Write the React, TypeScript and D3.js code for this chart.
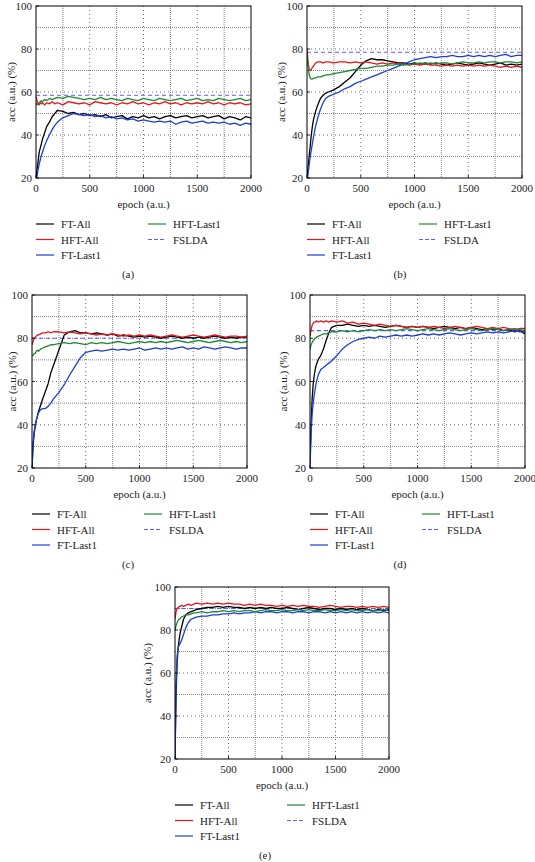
import React from "react";
import * as d3 from "d3";

// ---------- data ----------
const EPOCHS = [
  0, 10, 20, 30, 40, 50, 60, 80, 100, 125, 150, 175, 200,
  250, 300, 350, 400, 450, 500, 550, 600, 650, 700, 750, 800,
  850, 900, 950, 1000, 1050, 1100, 1150, 1200, 1250, 1300, 1350, 1400,
  1450, 1500, 1550, 1600, 1650, 1700, 1750, 1800, 1850, 1900, 1950, 2000,
];

const X_TICKS = [0, 500, 1000, 1500, 2000];
const Y_TICKS = [20, 40, 60, 80, 100];
const X_GRID_MINOR = [250, 750, 1250, 1750];
const X_GRID_MAJOR = [500, 1000, 1500];
const Y_GRID_MINOR = [30, 50, 70, 90];
const Y_GRID_MAJOR = [40, 60, 80];

const SERIES_NAMES = ["FT-All", "HFT-All", "FT-Last1", "HFT-Last1", "FSLDA"];
const PANEL_CAPTIONS = ["(a)", "(b)", "(c)", "(d)", "(e)"];
const FSLDA = [58.5, 78.5, 80, 83.5, 90];

// (a)
const ftAllA = [
  20, 24, 28, 32, 34, 36, 38, 41, 44, 46, 48.5, 50, 51.5,
  51, 50, 50.5, 49.5, 50, 49, 49.5, 48.5, 49.5, 48, 48.5, 49,
  47.5, 48.5, 48, 49, 48, 48.5, 47.5, 48.5, 49, 48, 48.5, 49,
  48, 48.5, 49, 48, 48.5, 49, 47.5, 48.5, 48, 47, 48.5, 48,
];
const hftAllA = [
  58, 56, 54.5, 54, 55, 54.5, 55, 54, 55, 54.5, 55.5, 54.5, 55,
  54, 55.5, 55, 54.5, 55, 54, 55.5, 55, 54.5, 55, 54, 55,
  54.5, 55.5, 54.5, 55, 54, 55, 54.5, 55.5, 54.5, 55, 54, 55,
  54.5, 55, 54.5, 55.5, 54.5, 55, 54, 55, 54.5, 55, 54, 54.5,
];
const ftLast1A = [
  18, 21, 24, 26.5, 28.5, 30.5, 32, 35, 37.5, 40, 42.5, 44.5, 46,
  48, 49, 50, 49.5, 49, 49.5, 48.5, 49, 48, 48.5, 47.5, 48,
  47, 47.5, 46.5, 47, 46.5, 46, 46.5, 46, 46.5, 45, 46, 46.5,
  45.5, 46, 46.5, 45.5, 46, 45.5, 46, 45, 45.5, 44.5, 45.5, 45,
];
const hftLast1A = [
  55, 54, 54.5, 55, 55.5, 56, 55.5, 56.5, 56, 57, 56.5, 57, 57.5,
  57, 58, 57.5, 57, 56.5, 57, 56.5, 57.5, 56.5, 57, 56.5, 56,
  57, 56.5, 56, 57, 56.5, 56, 57, 56.5, 56, 56.5, 57, 56,
  56.5, 57, 56, 56.5, 56, 57, 56.5, 56, 56.5, 57, 56, 56.5,
];

// (b)
const ftAllB = [
  20, 25, 30, 35, 40, 44, 47, 51, 54, 57, 58.5, 59.5, 60,
  61, 62.5, 64.5, 66.5, 69.5, 72.5, 74.5, 75.5, 75, 75, 74.5, 74,
  73.5, 73.5, 73, 73.5, 73, 73.5, 73, 73.5, 73, 72.5, 73, 73.5,
  73, 72.5, 73, 73.5, 73, 72.5, 73, 73.5, 72.5, 73, 72.5, 73,
];
const hftAllB = [
  80, 74, 70.5, 70, 70.5, 71.5, 72, 73.5, 74, 74, 73.5, 74, 74,
  73.5, 74, 74, 73.5, 74, 73.5, 74, 73.5, 73, 73.5, 73, 73.5,
  73, 73, 72.5, 73, 72.5, 73, 72.5, 72.5, 72, 72.5, 72, 72.5,
  72, 72.5, 72, 72.5, 72, 72.5, 72, 71.5, 72, 71.5, 72, 71.5,
];
const ftLast1B = [
  18, 22, 26, 30, 33, 36, 39, 44, 48, 52, 55, 57, 58,
  59, 60, 61.5, 62.5, 64, 65, 66, 67, 68, 69, 70, 71,
  72, 73, 74, 75, 75.5, 76, 76.5, 76, 76.5, 76.5, 77, 76.5,
  76.5, 77, 76.5, 77, 76.5, 77, 76.5, 77, 77.5, 76.5, 77, 77,
];
const hftLast1B = [
  78, 72, 68, 66.5, 66, 66, 66.5, 66.5, 67, 67, 67.5, 68, 68,
  68.5, 69, 69.5, 70, 70.5, 71, 71, 71.5, 72, 72, 72.5, 72.5,
  73, 72.5, 73, 73, 73.5, 73, 73.5, 73, 73.5, 73.5, 73, 73.5,
  74, 73.5, 73.5, 74, 73.5, 74, 74, 73.5, 74, 74, 73.5, 74,
];

// (c)
const ftAllC = [
  20, 30, 36, 39, 42, 44, 46, 49, 52, 55.5, 59, 64, 67.5,
  74.5, 81.5, 83, 83.5, 82.5, 82.5, 82, 82.5, 82, 81.5, 82, 81,
  81.5, 81, 80.5, 81, 80.5, 81, 80.5, 80, 80.5, 81, 80.5, 80,
  80.5, 80, 80.5, 80, 80.5, 81, 80.5, 80, 80.5, 80, 80.5, 80.5,
];
const hftAllC = [
  77, 78.5, 80, 80.5, 81, 81.5, 81.5, 82, 82.5, 82.5, 83, 82.5, 83,
  83, 82.5, 83, 82.5, 82, 82.5, 82, 81.5, 82, 81.5, 82, 81.5,
  81, 81.5, 81, 81.5, 81, 81.5, 81, 80.5, 81, 81.5, 81, 80.5,
  81, 81.5, 81, 80.5, 81, 81.5, 81, 80.5, 81, 81, 80.5, 81,
];
const ftLast1C = [
  20, 32, 37, 40, 42, 44, 45.5, 47, 47.5, 47.5, 48.5, 50, 52,
  55, 58.5, 63, 67, 71, 73.5, 74, 74.5, 74, 74.5, 75, 74.5,
  75, 74.5, 75, 75.5, 74.5, 75, 75.5, 75, 75.5, 75, 75.5, 76,
  75, 75.5, 75, 76, 75.5, 75, 75.5, 76, 75.5, 75, 75.5, 75.5,
];
const hftLast1C = [
  72, 72, 73, 73, 74, 74.5, 74, 75, 75.5, 76, 76.5, 77, 77,
  77.5, 78, 77.5, 78, 77.5, 77, 78, 77.5, 78, 77.5, 78, 78.5,
  78, 77.5, 78, 78.5, 78, 78.5, 78, 78.5, 78, 78.5, 79, 78.5,
  78, 78.5, 79, 78.5, 78, 78.5, 79, 78.5, 78, 78.5, 78, 78.5,
];

// (d)
const ftAllD = [
  22, 40, 52, 59, 63, 66, 68, 70.5, 72, 75, 79, 82.5, 85,
  86, 86, 86.5, 86, 85.5, 86, 85.5, 86, 85.5, 85, 85.5, 86,
  85.5, 85, 85.5, 85, 85.5, 85, 84.5, 85, 85.5, 85, 84.5, 85,
  84.5, 85, 84.5, 84, 84.5, 84, 84.5, 83.5, 84, 83, 83.5, 82,
];
const hftAllD = [
  81, 84, 86, 87, 87.5, 87.5, 88, 87.5, 88, 87.5, 88, 87.5, 88,
  87.5, 88, 87, 87.5, 86.5, 87, 86.5, 86, 86.5, 86, 85.5, 86,
  85.5, 85, 85.5, 85, 85.5, 85, 85.5, 85, 84.5, 85, 85.5, 85,
  84.5, 85, 85.5, 85, 84.5, 85, 84.5, 85, 84.5, 84, 84.5, 84.5,
];
const ftLast1D = [
  20, 36, 45, 50, 54, 57, 60, 63.5, 65.5, 66.5, 67.5, 68.5, 69.5,
  72, 75, 77, 78.5, 79.5, 80, 80.5, 80, 81, 80.5, 81, 81.5,
  81, 81.5, 81, 81.5, 82, 81.5, 82, 81.5, 82, 82.5, 82, 81.5,
  82, 82.5, 82, 82.5, 83, 82.5, 83, 82.5, 83, 83.5, 83, 83,
];
const hftLast1D = [
  75, 77, 78, 79, 79.5, 80, 80.5, 81, 81.5, 82, 82, 82.5, 83,
  83, 83.5, 83, 83.5, 83, 83.5, 84, 83.5, 84, 83.5, 84, 83.5,
  84, 84.5, 84, 83.5, 84, 84.5, 84, 83.5, 84, 84.5, 84, 83.5,
  84, 84.5, 84, 83.5, 84, 84.5, 84, 83.5, 84, 84.5, 84, 83.5,
];

// (e)
const ftAllE = [
  20, 50, 65, 72, 76, 79, 81, 85, 87, 88, 88.5, 89, 89.5,
  90, 90.5, 90.5, 91, 90.5, 91, 90.5, 90.5, 90, 90.5, 90, 90.5,
  90, 90.5, 90, 90, 90.5, 90, 89.5, 90, 90.5, 90, 89.5, 90,
  90, 89.5, 90, 89.5, 90, 89.5, 90, 89.5, 89, 89.5, 89, 89.5,
];
const hftAllE = [
  85, 88.5, 90, 90.5, 91, 91, 91.5, 91, 91.5, 92, 91.5, 92, 92.5,
  92, 92.5, 92, 92.5, 92, 92.5, 92, 92, 91.5, 92, 91.5, 92,
  91.5, 91.5, 91, 91.5, 91, 91.5, 91, 91.5, 91, 91, 90.5, 91,
  91.5, 91, 90.5, 91, 91, 90.5, 91, 90.5, 91, 90.5, 91, 90.5,
];
const ftLast1E = [
  20, 55, 68, 72, 73, 74, 75, 78, 81, 83.5, 85, 85.5, 86,
  86.5, 86.5, 87, 87, 87.5, 87.5, 88, 87.5, 88, 88, 88.5, 88,
  88.5, 88.5, 88, 88.5, 88.5, 88, 88.5, 88.5, 88, 88.5, 88.5, 88,
  88.5, 88, 88.5, 88, 88.5, 88, 88.5, 88, 88.5, 88, 88.5, 88,
];
const hftLast1E = [
  80, 82, 83.5, 84.5, 85, 85.5, 86, 86.5, 87, 87, 87.5, 88, 88,
  88.5, 88, 88.5, 88.5, 89, 88.5, 89, 88.5, 89, 89, 88.5, 89,
  89.5, 89, 89, 89.5, 89, 89, 89.5, 89, 89.5, 89, 89, 89.5,
  89, 89, 89.5, 89, 89.5, 89, 89, 89.5, 89, 89, 89.5, 89,
];

const PANEL_DATA = [
  [ftAllA, hftAllA, ftLast1A, hftLast1A],
  [ftAllB, hftAllB, ftLast1B, hftLast1B],
  [ftAllC, hftAllC, ftLast1C, hftLast1C],
  [ftAllD, hftAllD, ftLast1D, hftLast1D],
  [ftAllE, hftAllE, ftLast1E, hftLast1E],
];

// ---------- layout / style ----------
const LAYOUT = [
  { L: 36, R: 251, T: 6, B: 178, ylabX: 11, legX: 36, capX: 128 },
  { L: 307, R: 522, T: 6, B: 178, ylabX: 281, legX: 307, capX: 400 },
  { L: 32, R: 247, T: 295, B: 468, ylabX: 12, legX: 32, capX: 128 },
  { L: 310, R: 525, T: 295, B: 468, ylabX: 283, legX: 310, capX: 400 },
  { L: 175, R: 389, T: 587, B: 759, ylabX: 147, legX: 175, capX: 265 },
];

const COLORS = ["#000000", "#e8141c", "#1c3fd8", "#1b8a35"];
const FSLDA_COLOR = "#5b5bff";
const DRAW_ORDER = [0, 1, 2, 3];
const FONT = "'Liberation Serif', 'DejaVu Serif', serif";
const FS = 11;

function Panel({ idx }: { idx: number }) {
  const lay = LAYOUT[idx];
  const x = d3.scaleLinear().domain([0, 2000]).range([lay.L, lay.R]);
  const y = d3.scaleLinear().domain([20, 100]).range([lay.B, lay.T]);
  const series = PANEL_DATA[idx];
  const line = d3
    .line<number>()
    .x((_, i) => x(EPOCHS[i]))
    .y((v) => y(v));
  const clipId = `clip-${idx}`;
  const cx = (lay.L + lay.R) / 2;
  const cy = (lay.T + lay.B) / 2;

  const legendItems = [
    { name: SERIES_NAMES[0], color: COLORS[0], col: 0, row: 0, dash: false },
    { name: SERIES_NAMES[1], color: COLORS[1], col: 0, row: 1, dash: false },
    { name: SERIES_NAMES[2], color: COLORS[2], col: 0, row: 2, dash: false },
    { name: SERIES_NAMES[3], color: COLORS[3], col: 1, row: 0, dash: false },
    { name: SERIES_NAMES[4], color: FSLDA_COLOR, col: 1, row: 1, dash: true },
  ];
  const rowY = [lay.B + 46, lay.B + 61.5, lay.B + 77];

  return (
    <g>
      <defs>
        <clipPath id={clipId}>
          <rect x={lay.L} y={lay.T} width={lay.R - lay.L} height={lay.B - lay.T} />
        </clipPath>
      </defs>
      <rect x={lay.L} y={lay.T} width={lay.R - lay.L} height={lay.B - lay.T} fill="#fff" />
      {/* grid */}
      {X_GRID_MINOR.map((v) => (
        <line key={"xm" + v} x1={x(v)} x2={x(v)} y1={lay.T} y2={lay.B}
          stroke="#555" strokeWidth={0.7} strokeDasharray="1,1" />
      ))}
      {X_GRID_MAJOR.map((v) => (
        <line key={"xM" + v} x1={x(v)} x2={x(v)} y1={lay.T} y2={lay.B}
          stroke="#444" strokeWidth={0.8} strokeDasharray="1,3" />
      ))}
      {Y_GRID_MINOR.map((v) => (
        <line key={"ym" + v} x1={lay.L} x2={lay.R} y1={y(v)} y2={y(v)}
          stroke="#555" strokeWidth={0.7} strokeDasharray="1,1" />
      ))}
      {Y_GRID_MAJOR.map((v) => (
        <line key={"yM" + v} x1={lay.L} x2={lay.R} y1={y(v)} y2={y(v)}
          stroke="#444" strokeWidth={0.8} strokeDasharray="1,3" />
      ))}
      {/* data */}
      <g clipPath={`url(#${clipId})`}>
        <line x1={x(0)} x2={x(2000)} y1={y(FSLDA[idx])} y2={y(FSLDA[idx])}
          stroke={FSLDA_COLOR} strokeWidth={1.2} strokeDasharray="4,3" />
        {DRAW_ORDER.map((s) => (
          <path key={s} d={line(series[s]) || ""} fill="none" stroke={COLORS[s]}
            strokeWidth={1.3} strokeLinejoin="round" />
        ))}
      </g>
      {/* frame */}
      <rect x={lay.L} y={lay.T} width={lay.R - lay.L} height={lay.B - lay.T}
        fill="none" stroke="#000" strokeWidth={1} />
      {/* ticks */}
      {X_TICKS.map((v) => (
        <g key={"xt" + v}>
          <line x1={x(v)} x2={x(v)} y1={lay.B} y2={lay.B - 3} stroke="#000" strokeWidth={0.8} />
          <text x={x(v)} y={lay.B + 13.5} textAnchor="middle" fontSize={FS} fontFamily={FONT} fill="#222">
            {v}
          </text>
        </g>
      ))}
      {Y_TICKS.map((v) => (
        <g key={"yt" + v}>
          <line x1={lay.L} x2={lay.L + 3} y1={y(v)} y2={y(v)} stroke="#000" strokeWidth={0.8} />
          <text x={lay.L - 4} y={y(v) + 4} textAnchor="end" fontSize={FS} fontFamily={FONT} fill="#222">
            {v}
          </text>
        </g>
      ))}
      {/* axis labels */}
      <text x={cx} y={lay.B + 30} textAnchor="middle" fontSize={FS} fontFamily={FONT} fill="#222">
        epoch (a.u.)
      </text>
      <text transform={`translate(${lay.ylabX + 4},${cy}) rotate(-90)`} textAnchor="middle"
        fontSize={FS} fontFamily={FONT} fill="#222">
        acc (a.u.) (%)
      </text>
      {/* legend */}
      {legendItems.map((it) => {
        const lx = lay.legX + it.col * 112;
        const ly = rowY[it.row];
        return (
          <g key={it.name}>
            <line x1={lx} x2={lx + 18} y1={ly} y2={ly} stroke={it.color} strokeWidth={1.2}
              strokeDasharray={it.dash ? "4,2" : undefined} />
            <text x={lx + 25} y={ly + 4} fontSize={FS} fontFamily={FONT} fill="#222">
              {it.name}
            </text>
          </g>
        );
      })}
      <text x={lay.capX} y={lay.B + 100} textAnchor="middle" fontSize={FS} fontFamily={FONT} fill="#222">
        {PANEL_CAPTIONS[idx]}
      </text>
    </g>
  );
}

export default function App() {
  return (
    <svg width={535} height={862} style={{ position: "absolute", left: 0, top: 0, background: "#fff" }}>
      <rect width={535} height={862} fill="#fff" />
      {LAYOUT.map((_, i) => (
        <Panel key={i} idx={i} />
      ))}
    </svg>
  );
}
